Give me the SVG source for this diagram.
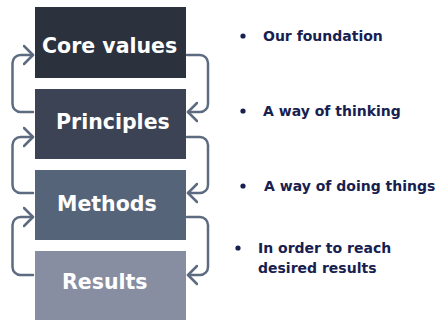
<svg xmlns="http://www.w3.org/2000/svg" width="439" height="320" viewBox="0 0 439 320">
<defs>
<style>
.box-label{font-family:"DejaVu Sans","Liberation Sans",sans-serif;font-weight:bold;font-size:20.5px;fill:#ffffff}
.note{font-family:"DejaVu Sans","Liberation Sans",sans-serif;font-weight:bold;font-size:14px;fill:#17204f}
.bullet{fill:#17204f}
.conn{fill:none;stroke:#5d6b80;stroke-width:2.5;stroke-linecap:round;stroke-linejoin:round}
</style>
<marker id="chev" markerUnits="userSpaceOnUse" viewBox="0 0 14 22" markerWidth="14" markerHeight="22" refX="10" refY="11" orient="auto">
<path d="M1,2 L10,11 L1,20" fill="none" stroke="#5d6b80" stroke-width="2.5" stroke-linecap="round" stroke-linejoin="round"/>
</marker>
</defs>
<rect width="439" height="320" fill="#ffffff"/>
<g id="node-core-values">
<rect x="35" y="7" width="151" height="71" fill="#2b313d"/>
<text class="box-label" x="42" y="53">Core values</text>
</g>
<g id="node-principles">
<rect x="35" y="89" width="151" height="70" fill="#3b4354"/>
<text class="box-label" x="56" y="129">Principles</text>
</g>
<g id="node-methods">
<rect x="35" y="170" width="151" height="70" fill="#56647a"/>
<text class="box-label" x="57" y="211">Methods</text>
</g>
<g id="node-results">
<rect x="35" y="251" width="151" height="70" fill="#878ea2"/>
<text class="box-label" x="62" y="289">Results</text>
</g>
<g id="connectors">
<path class="conn" marker-end="url(#chev)" d="M33,112 H20.5 A8,8 0 0 1 12.5,104 V63 A8,8 0 0 1 20.5,55 H33"/>
<path class="conn" marker-end="url(#chev)" d="M187,55 H200 A8,8 0 0 1 208,63 V104 A8,8 0 0 1 200,112 H188"/>
<path class="conn" marker-end="url(#chev)" d="M33,193 H20.5 A8,8 0 0 1 12.5,185 V145 A8,8 0 0 1 20.5,137 H33"/>
<path class="conn" marker-end="url(#chev)" d="M187,137 H200 A8,8 0 0 1 208,145 V185 A8,8 0 0 1 200,193 H188"/>
<path class="conn" marker-end="url(#chev)" d="M33,275 H20.5 A8,8 0 0 1 12.5,267 V225 A8,8 0 0 1 20.5,217 H33"/>
<path class="conn" marker-end="url(#chev)" d="M187,217 H200 A8,8 0 0 1 208,225 V267 A8,8 0 0 1 200,275 H188"/>
</g>
<g id="note-foundation">
<circle class="bullet" cx="243" cy="36" r="2.6"/>
<text class="note" x="263" y="41">Our foundation</text>
</g>
<g id="note-thinking">
<circle class="bullet" cx="243" cy="111" r="2.6"/>
<text class="note" x="263" y="116">A way of thinking</text>
</g>
<g id="note-doing">
<circle class="bullet" cx="243" cy="186" r="2.6"/>
<text class="note" x="264" y="191">A way of doing things</text>
</g>
<g id="note-results">
<circle class="bullet" cx="238" cy="248" r="2.6"/>
<text class="note" x="258" y="253">In order to reach</text>
<text class="note" x="258" y="273">desired results</text>
</g>
</svg>
